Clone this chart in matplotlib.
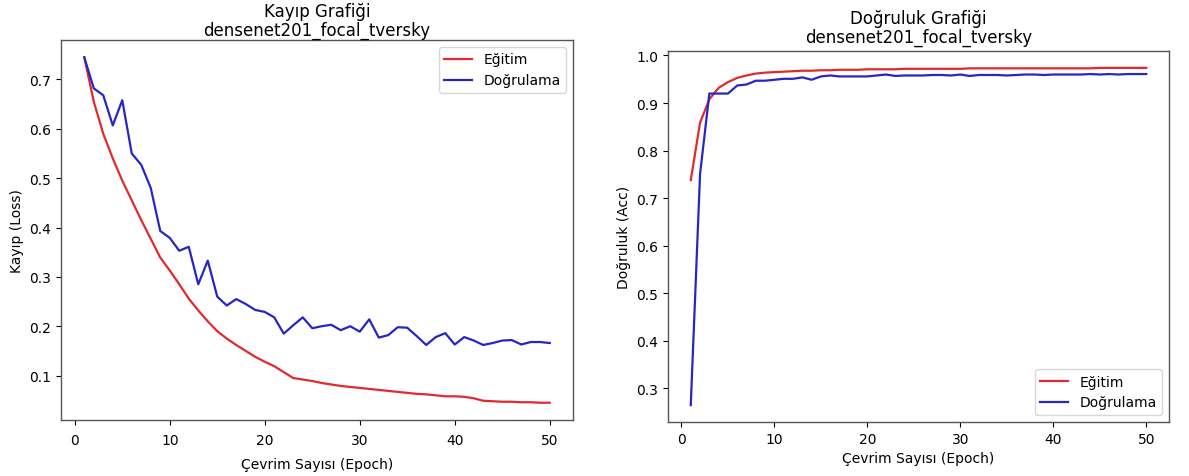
import matplotlib
matplotlib.use("Agg")
import matplotlib.pyplot as plt

epochs = list(range(1, 51))

train_loss = [0.745, 0.655, 0.590, 0.540, 0.495, 0.455, 0.415, 0.377, 0.339, 0.313,
              0.285, 0.256, 0.232, 0.210, 0.190, 0.175, 0.162, 0.150, 0.138, 0.128,
              0.119, 0.107, 0.095, 0.092, 0.089, 0.085, 0.082, 0.079, 0.077, 0.075,
              0.073, 0.071, 0.069, 0.067, 0.065, 0.063, 0.062, 0.060, 0.058, 0.058,
              0.057, 0.054, 0.049, 0.048, 0.047, 0.047, 0.046, 0.046, 0.045, 0.045]

val_loss = [0.745, 0.682, 0.668, 0.607, 0.658, 0.550, 0.527, 0.480, 0.393, 0.379,
            0.353, 0.361, 0.285, 0.333, 0.260, 0.242, 0.255, 0.245, 0.233, 0.229,
            0.218, 0.185, 0.202, 0.218, 0.196, 0.200, 0.203, 0.192, 0.200, 0.189,
            0.214, 0.177, 0.182, 0.198, 0.197, 0.180, 0.162, 0.178, 0.186, 0.163,
            0.178, 0.171, 0.162, 0.166, 0.171, 0.172, 0.163, 0.168, 0.168, 0.166]

train_acc = [0.738, 0.859, 0.908, 0.932, 0.944, 0.953, 0.958, 0.962, 0.964, 0.965,
             0.966, 0.967, 0.968, 0.968, 0.969, 0.969, 0.970, 0.970, 0.970, 0.971,
             0.971, 0.971, 0.971, 0.972, 0.972, 0.972, 0.972, 0.972, 0.972, 0.972,
             0.973, 0.973, 0.973, 0.973, 0.973, 0.973, 0.973, 0.973, 0.973, 0.973,
             0.973, 0.973, 0.973, 0.973, 0.974, 0.974, 0.974, 0.974, 0.974, 0.974]

val_acc = [0.265, 0.751, 0.920, 0.920, 0.920, 0.937, 0.939, 0.947, 0.947, 0.949,
           0.951, 0.951, 0.954, 0.949, 0.956, 0.958, 0.956, 0.956, 0.956, 0.956,
           0.958, 0.960, 0.957, 0.958, 0.958, 0.958, 0.959, 0.959, 0.958, 0.960,
           0.957, 0.959, 0.959, 0.959, 0.958, 0.959, 0.960, 0.960, 0.959, 0.960,
           0.960, 0.960, 0.960, 0.961, 0.960, 0.961, 0.960, 0.961, 0.961, 0.961]

model_name = "densenet201_focal_tversky"
lbl_train = "Eğitim"
lbl_val = "Doğrulama"
xlabel = "Çevrim Sayısı (Epoch)"

RED = "#e02a2e"
BLUE = "#2626c8"
FS = 10
TFS = 12

fig = plt.figure(figsize=(11.89, 4.77), dpi=100)

ax1 = fig.add_axes([61 / 1189, 1 - 421 / 477, 512 / 1189, 380 / 477])
ax1.plot(epochs, train_loss, color=RED, lw=1.6, label=lbl_train)
ax1.plot(epochs, val_loss, color=BLUE, lw=1.6, label=lbl_val)
ax1.set_title("Kayıp Grafiği\n" + model_name, fontsize=TFS, pad=4, linespacing=1.0)
ax1.set_xlabel(xlabel, fontsize=FS, labelpad=7)
ax1.set_ylabel("Kayıp (Loss)", fontsize=FS)
ax1.legend(loc="upper right", fontsize=FS)
ax1.tick_params(axis="x", pad=6)

ax2 = fig.add_axes([668 / 1189, 1 - 423 / 477, 501 / 1189, 371 / 477])
ax2.plot(epochs, train_acc, color=RED, lw=1.6, label=lbl_train)
ax2.plot(epochs, val_acc, color=BLUE, lw=1.6, label=lbl_val)
ax2.set_title("Doğruluk Grafiği\n" + model_name, fontsize=TFS, pad=7, linespacing=1.0)
ax2.set_xlabel(xlabel, fontsize=FS)
ax2.set_ylabel("Doğruluk (Acc)", fontsize=FS)
ax2.legend(loc="lower right", fontsize=FS)

for ax in (ax1, ax2):
    ax.tick_params(labelsize=FS, length=3.5)
    for s in ax.spines.values():
        s.set_color("#555555")
        s.set_linewidth(1.0)

fig.savefig("out.png", dpi=100)
